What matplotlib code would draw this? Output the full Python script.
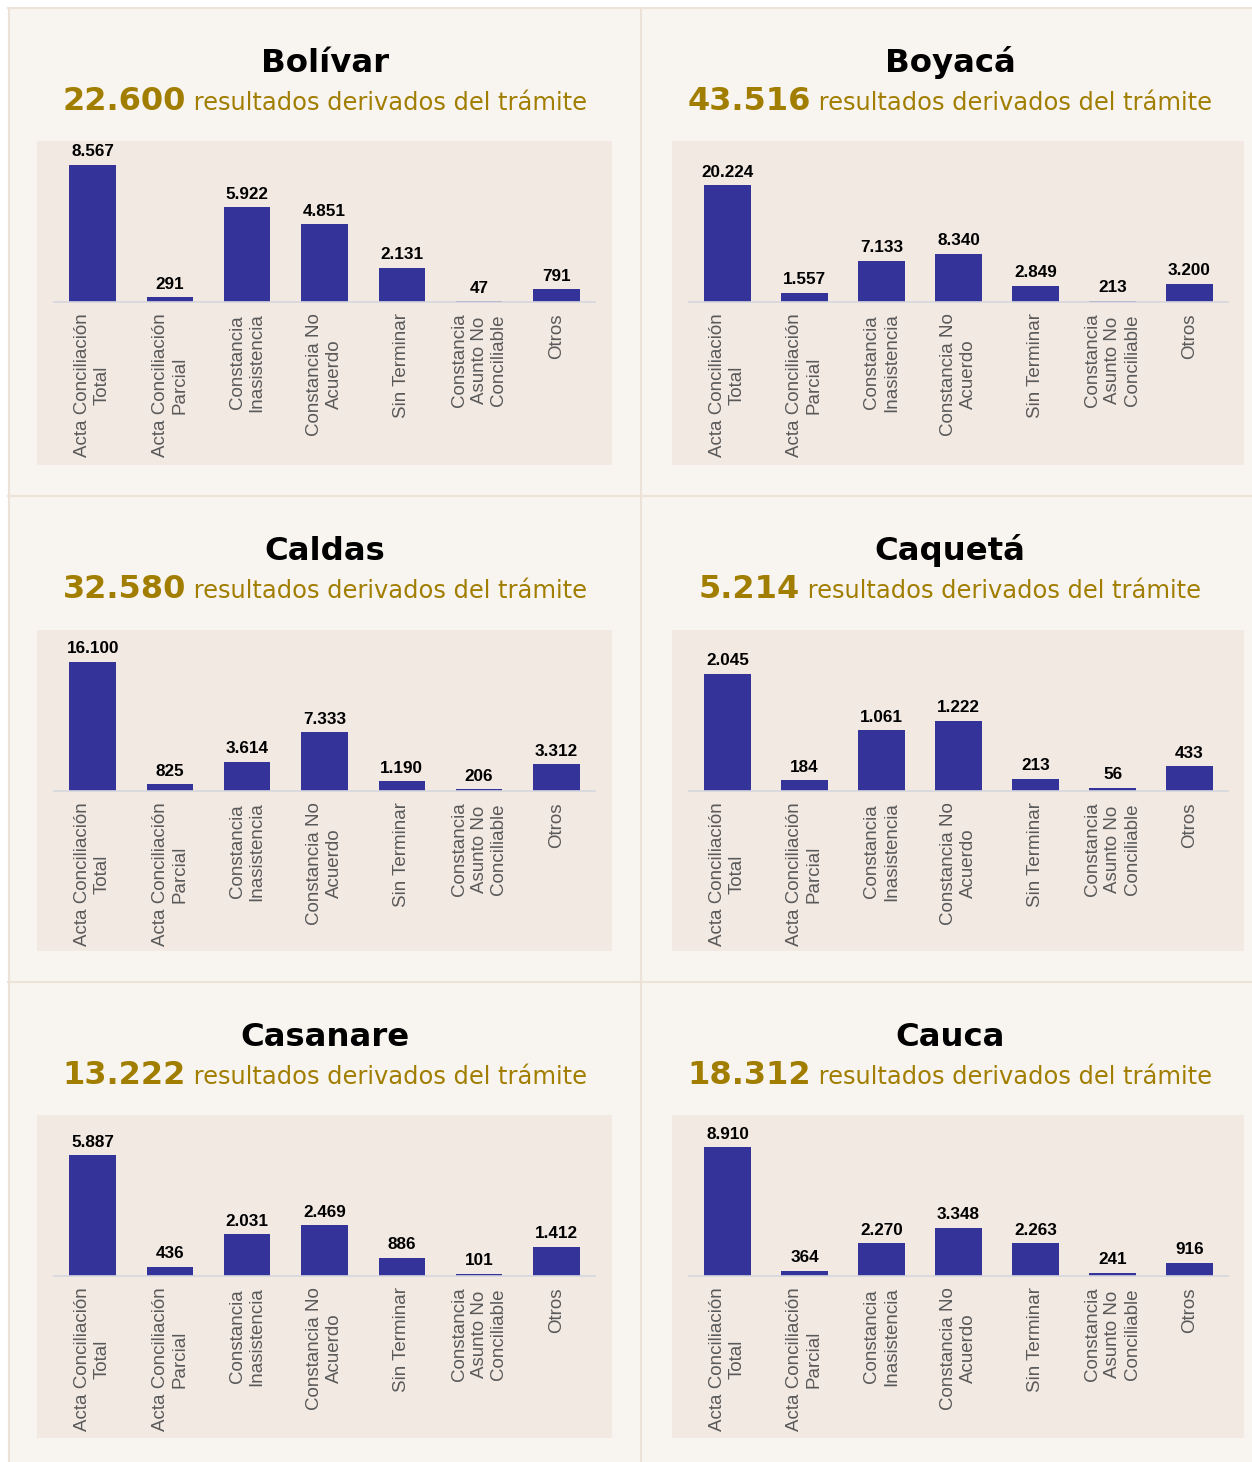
import matplotlib
matplotlib.use("Agg")
import matplotlib.pyplot as plt
from matplotlib.patches import Rectangle

categories = [
    "Acta Conciliación\nTotal",
    "Acta Conciliación\nParcial",
    "Constancia\nInasistencia",
    "Constancia No\nAcuerdo",
    "Sin Terminar",
    "Constancia\nAsunto No\nConciliable",
    "Otros",
]

departments = ["Bolívar", "Boyacá", "Caldas", "Caquetá", "Casanare", "Cauca"]

bolivar = [8567, 291, 5922, 4851, 2131, 47, 791]
boyaca = [20224, 1557, 7133, 8340, 2849, 213, 3200]
caldas = [16100, 825, 3614, 7333, 1190, 206, 3312]
caqueta = [2045, 184, 1061, 1222, 213, 56, 433]
casanare = [5887, 436, 2031, 2469, 886, 101, 1412]
cauca = [8910, 364, 2270, 3348, 2263, 241, 916]
series = [bolivar, boyaca, caldas, caqueta, casanare, cauca]

# y-axis upper limits
y_tops = [9800, 27200, 19600, 2740, 7650, 10870]

W, H = 1252, 1462
BAR = "#333399"
GOLD = "#a17d00"
PANEL_BG = "#f8f5f0"
BOX_BG = "#f2e9e3"
LINE = "#ede2d8"


def fmt(v):
    return f"{v:,}".replace(",", ".")


fig = plt.figure(figsize=(W / 100, H / 100), dpi=100)
fig.patch.set_facecolor("white")

# background layer in pixel coordinates
bg = fig.add_axes([0, 0, 1, 1])
bg.set_xlim(0, W)
bg.set_ylim(H, 0)
bg.axis("off")
bg.add_patch(Rectangle((8, 8), W - 8, H - 8, facecolor=PANEL_BG, edgecolor="none"))
for x in (9, 641):
    bg.plot([x, x], [8, H], color=LINE, lw=1.5)
for y in (8, 496, 982):
    bg.plot([8, W], [y, y], color=LINE, lw=1.5)

row_tops = [8, 496, 982]
box_tops = [141, 630, 1115]
box_h = [324, 321, 323]
cols = [
    dict(box=(37, 612), ax=(54, 595), cx=325),
    dict(box=(672, 1244), ax=(689, 1228), cx=950),
]

renderer = fig.canvas.get_renderer()

for i, (name, vals) in enumerate(zip(departments, series)):
    r, c = divmod(i, 2)
    col = cols[c]
    bt = box_tops[r]
    bg.add_patch(Rectangle((col["box"][0], bt), col["box"][1] - col["box"][0], box_h[r],
                           facecolor=BOX_BG, edgecolor="none"))

    # title and subtitle
    fig.text(col["cx"] / W, 1 - (row_tops[r] + 64) / H, name, ha="center", va="baseline",
             fontsize=23.3, fontweight="bold", family="DejaVu Sans", color="black")
    sy = 1 - (row_tops[r] + 102) / H
    t1 = fig.text(0, sy, fmt(sum(vals)), va="baseline", fontsize=23, fontweight="bold",
                  family="DejaVu Sans", color=GOLD)
    t2 = fig.text(0, sy, " resultados derivados del trámite", va="baseline", fontsize=17.4,
                  family="DejaVu Sans", color=GOLD)
    w1 = t1.get_window_extent(renderer).width
    w2 = t2.get_window_extent(renderer).width
    x0 = col["cx"] - (w1 + w2) / 2
    t1.set_x(x0 / W)
    t2.set_x((x0 + w1) / W)

    # bar chart
    top = bt + 4
    base = bt + 161
    ax = fig.add_axes([col["ax"][0] / W, 1 - base / H,
                       (col["ax"][1] - col["ax"][0]) / W, (base - top) / H])
    ax.patch.set_alpha(0)
    xs = range(len(categories))
    bars = ax.bar(xs, vals, width=0.6, color=BAR)
    for b, v in zip(bars, vals):
        ax.annotate(fmt(v), (b.get_x() + b.get_width() / 2, v), xytext=(0, 4),
                    textcoords="offset points", ha="center", va="bottom",
                    fontsize=12.3, fontweight="bold", family="Liberation Sans", color="black")
    ax.set_xlim(-0.5, len(categories) - 0.5)
    ax.set_ylim(0, y_tops[i])
    ax.set_yticks([])
    ax.set_xticks(list(xs))
    ax.set_xticklabels(categories, rotation=90, ha="center", va="top", fontsize=13.5,
                       family="Liberation Sans", color="#595959")
    ax.tick_params(axis="x", length=0, pad=8)
    for s in ("top", "left", "right"):
        ax.spines[s].set_visible(False)
    ax.spines["bottom"].set_color("#d6d6dc")
    ax.spines["bottom"].set_linewidth(1.2)

fig.savefig("out.png", dpi=100, facecolor=fig.get_facecolor())
